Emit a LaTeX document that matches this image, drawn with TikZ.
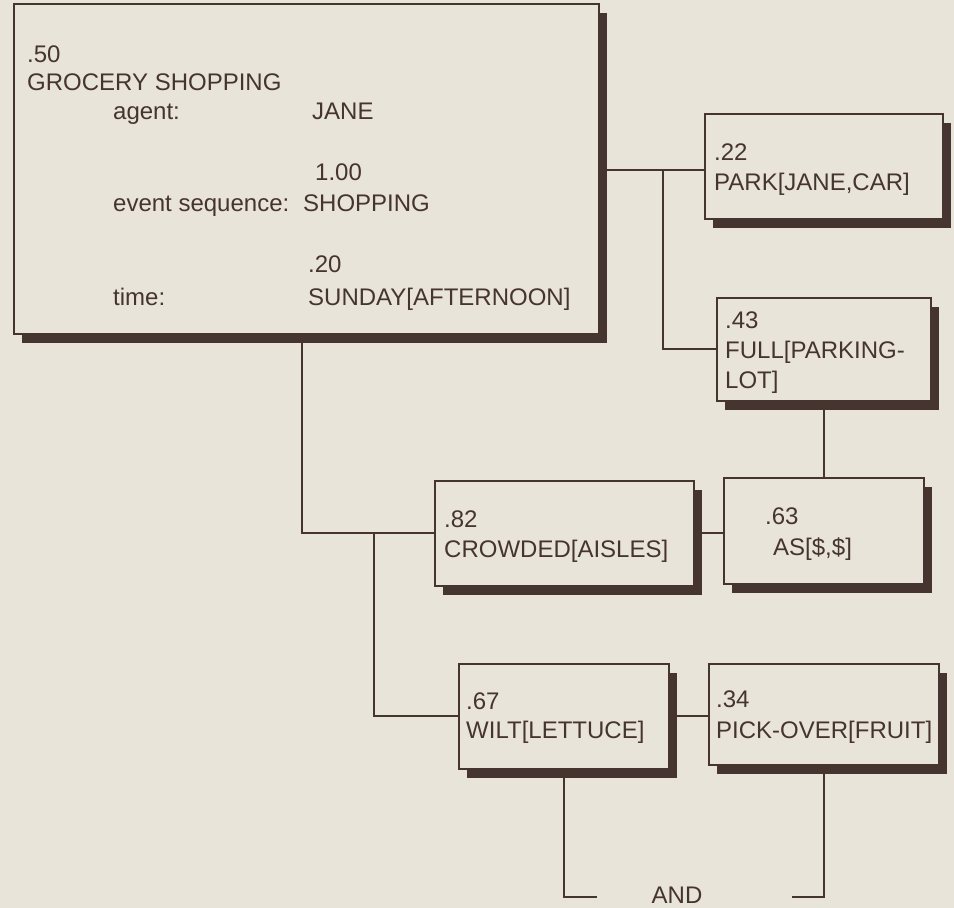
\documentclass[tikz,border=0pt]{standalone}
\usepackage{fontspec}
\setmainfont{Liberation Sans}
\usetikzlibrary{shadows}
\definecolor{bg}{RGB}{233,228,217}
\definecolor{ink}{RGB}{70,52,48}
\tikzset{
  box/.style={draw=ink, line width=1.8pt, fill=bg, inner sep=0pt, anchor=north west,
    drop shadow={shadow xshift=8pt, shadow yshift=-9pt, fill=ink, opacity=1}},
  lbl/.style={anchor=base west, inner sep=0pt, text=ink, font=\fontsize{24}{28}\selectfont},
  conn/.style={draw=ink, line width=2pt}
}
\begin{document}
\begin{tikzpicture}[x=1pt,y=-1pt]
\fill[bg] (0,0) rectangle (954,908);
\useasboundingbox (0,0) rectangle (954,908);

% boxes
\node[box, minimum width=585pt, minimum height=330pt] (main) at (13,3) {};
\node[box, minimum width=238pt, minimum height=105pt] (park) at (704,113) {};
\node[box, minimum width=214pt, minimum height=103pt] (full) at (716,297) {};
\node[box, minimum width=259pt, minimum height=105pt] (crowded) at (434,480) {};
\node[box, minimum width=200pt, minimum height=106pt] (as) at (723,477) {};
\node[box, minimum width=210pt, minimum height=105pt] (wilt) at (458,663) {};
\node[box, minimum width=230pt, minimum height=101pt] (pick) at (708,663) {};

% main box text
\node[lbl] (m1) at (27,62) {.50};
\node[lbl] (m2) at (27,90) {GROCERY SHOPPING};
\node[lbl] (m3) at (113,119) {agent:};
\node[lbl] (m4) at (312,119) {JANE};
\node[lbl] (m5) at (315,180) {1.00};
\node[lbl] (m6) at (113,211) {event sequence:};
\node[lbl] (m7) at (303,211) {SHOPPING};
\node[lbl] (m8) at (308,272) {.20};
\node[lbl] (m9) at (113,305) {time:};
\node[lbl] (m10) at (308,305) {SUNDAY[AFTERNOON]};

% other box texts
\node[lbl] (p1) at (714,160) {.22};
\node[lbl] (p2) at (714,190) {PARK[JANE,CAR]};
\node[lbl] (f1) at (725,328) {.43};
\node[lbl] (f2) at (725,358) {FULL[PARKING-};
\node[lbl] (f3) at (725,388) {LOT]};
\node[lbl] (c1) at (444,527) {.82};
\node[lbl] (c2) at (444,557) {CROWDED[AISLES]};
\node[lbl] (a1) at (765,524) {.63};
\node[lbl] (a2) at (773,555) {AS[\$,\$]};
\node[lbl] (w1) at (466,709) {.67};
\node[lbl] (w2) at (466,738) {WILT[LETTUCE]};
\node[lbl] (k1) at (716,707) {.34};
\node[lbl] (k2) at (716,738) {PICK-OVER[FRUIT]};
\node[lbl, anchor=base] (and) at (677,903) {AND};

% connectors
\coordinate (j1) at (663,170);
\coordinate (j2) at (302,0);
\coordinate (j3) at (374,0);
\coordinate (aL) at (597,897);
\coordinate (aR) at (792,897);
\draw[conn] (main.east |- j1) -- (j1 -| park.west);
\draw[conn] (j1) |- (full.west);
\draw[conn] (full.south) -- (full.south |- as.north);
\draw[conn] (main.south -| j2) |- (crowded.west);
\draw[conn] (j3 |- crowded.west) |- (wilt.west);
\draw[conn] (crowded.east) -- (crowded.east -| as.west);
\draw[conn] (wilt.east) -- (wilt.east -| pick.west);
\draw[conn] (wilt.south) |- (aL);
\draw[conn] (pick.south) |- (aR);
\end{tikzpicture}
\end{document}
